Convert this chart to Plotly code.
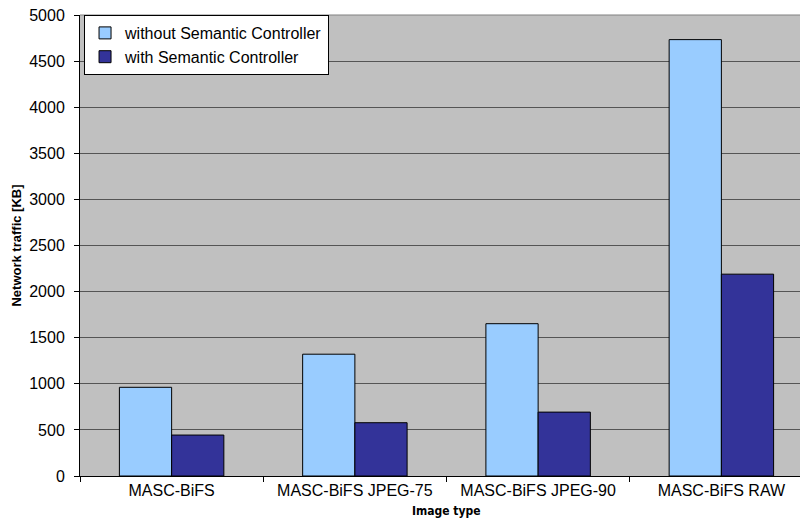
import plotly.graph_objects as go

categories = ["MASC-BiFS", "MASC-BiFS JPEG-75", "MASC-BiFS JPEG-90", "MASC-BiFS RAW"]
without_sc = [962, 1321, 1652, 4733]
with_sc = [444, 578, 693, 2189]
series_names = ["without Semantic Controller", "with Semantic Controller"]
y_ticks = [0, 500, 1000, 1500, 2000, 2500, 3000, 3500, 4000, 4500, 5000]

fig = go.Figure()
fig.add_trace(go.Bar(x=categories, y=without_sc, name=series_names[0],
                     marker=dict(color="#99CCFF", line=dict(color="#000000", width=1))))
fig.add_trace(go.Bar(x=categories, y=with_sc, name=series_names[1],
                     marker=dict(color="#333399", line=dict(color="#000000", width=1))))

fig.update_layout(
    width=808, height=519,
    margin=dict(l=72, r=3, t=7, b=51, autoexpand=False),
    paper_bgcolor="white",
    plot_bgcolor="#C0C0C0",
    barmode="group",
    bargap=0.43,
    bargroupgap=0,
    font=dict(family="Arial, Liberation Sans", size=16, color="#000000"),
    legend=dict(x=0.0055, y=1, xanchor="left", yanchor="top",
                bgcolor="white", bordercolor="#000000", borderwidth=1,
                font=dict(size=16), tracegroupgap=0, itemwidth=30),
    xaxis=dict(range=[-0.5, 3.5], tickson="boundaries", ticks="outside",
               ticklen=5, tickcolor="#000000", showline=True, linecolor="#000000",
               linewidth=1, showgrid=False, tickfont=dict(size=16),
               fixedrange=True, automargin=False),
    yaxis=dict(range=[0, 5000], tickvals=y_ticks, ticks="outside", ticklen=5,
               tickcolor="#000000", showline=True, linecolor="#000000", linewidth=1,
               showgrid=True, gridcolor="#555555", gridwidth=1, zeroline=False,
               tickfont=dict(size=16), ticklabelstandoff=6, automargin=False,
               ticklabeloverflow="allow",
               title=dict(text="<b>Network traffic [KB]</b>", font=dict(size=13),
                          standoff=4)),
    annotations=[dict(text="<b>Image type</b>", xref="paper", yref="paper",
                      x=0.5, y=-0.0759, xanchor="center", yanchor="middle",
                      showarrow=False,
                      font=dict(family="DejaVu Sans Condensed, Arial", size=12))],
    shapes=[dict(type="line", xref="paper", yref="paper", x0=0, x1=1, y0=1, y1=1,
                 line=dict(color="#808080", width=1))],
)

fig.write_html("out.html")
